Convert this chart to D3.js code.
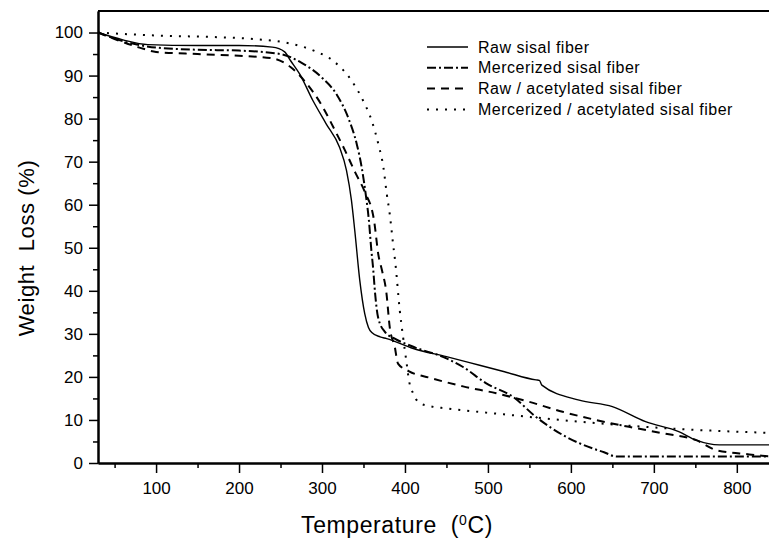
<!DOCTYPE html>
<html>
<head>
<meta charset="utf-8">
<script src="https://cdn.jsdelivr.net/npm/d3@7"></script>
<style>
	body { margin: 0; background: #fff; }
	text { font-family: 'Liberation Sans', Arial, sans-serif; fill: #000; }
</style>
</head>
<body>
<svg id="chart" width="769" height="541"></svg>
<script>

// temperature (C) and weight (%)
var raw_T = [30, 60, 90, 150, 200, 240, 255, 262, 273, 289, 305, 321, 329.5, 335.5, 339.5, 345.5, 351.5, 356, 360, 370, 378, 410, 450, 490, 520, 558, 562, 565, 610, 650, 690, 730, 751, 779, 840]
var raw_W = [100, 98.3, 97.2, 97, 97, 96.6, 95.5, 93.5, 90.4, 84.2, 78.8, 73.4, 68, 61, 54, 42.5, 34.7, 31.5, 30.3, 29.3, 28.9, 26.6, 24.7, 22.7, 21.2, 19.3, 19.2, 18.1, 14.6, 13.1, 9.6, 7.3, 5.3, 4.2, 4.2]

var merc_T = [30, 60, 100, 150, 200, 250, 275, 300, 318, 332, 342, 348, 353, 356.5, 359.5, 361.5, 364, 367.5, 375.6, 387.7, 410, 450, 470, 498, 530, 558, 594, 626, 640, 655, 840]
var merc_W = [100, 98, 96.5, 96, 95.8, 95, 93, 89.5, 85.5, 80, 74, 68.5, 62, 56.4, 49.4, 45.5, 39.4, 33.9, 30.5, 28.9, 27, 24.3, 22.3, 18.5, 15.4, 10.7, 6.1, 3.4, 2.5, 1.5, 1.5]

var rawac_T = [30, 50, 80, 100, 150, 200, 240, 262, 280, 300, 315, 328, 340, 351.5, 362.7, 368, 372, 377.7, 381.6, 387.7, 391.6, 405, 430, 470, 510, 550, 590, 630, 670, 711, 751, 775, 815, 840]
var rawac_W = [100, 98.5, 96.5, 95.5, 95, 94.6, 94, 92, 88.5, 83, 77.5, 72.5, 67.5, 63, 56.4, 48.3, 45, 39.4, 31.6, 27, 23.1, 21.3, 19.8, 17.8, 16.2, 14.2, 11.9, 10, 8.4, 6.9, 5.3, 3, 2, 1.5]

var mercac_T = [30, 100, 177, 217, 260, 290, 315, 335, 350, 360, 368, 374, 378, 381.6, 385.6, 388.5, 393.7, 397.7, 401.8, 405, 409.7, 417.8, 430, 450, 530, 610, 730, 840]
var mercac_W = [100, 99.3, 98.9, 98.5, 97.5, 95.8, 93.2, 89, 84, 79.5, 74, 68.7, 62.6, 57.9, 51, 46.3, 35.5, 29.3, 23.5, 19, 16.2, 13.9, 13.2, 12.7, 11.1, 9.6, 7.9, 7.0]

var names = ['Raw sisal fiber', 'Mercerized sisal fiber', 'Raw / acetylated sisal fiber', 'Mercerized / acetylated sisal fiber']
var dashes = [null, '9,3,2,3', '8,6', '2,7']
var widths = [1.4, 2, 2, 2]

var x_ticks = [100, 200, 300, 400, 500, 600, 700, 800]
var y_ticks = [0, 10, 20, 30, 40, 50, 60, 70, 80, 90, 100]

var series = [
	raw_T.map((t, i) => [t, raw_W[i]]),
	merc_T.map((t, i) => [t, merc_W[i]]),
	rawac_T.map((t, i) => [t, rawac_W[i]]),
	mercac_T.map((t, i) => [t, mercac_W[i]])
]

var pl = 98, pt = 11, pr = 770, pb = 463

var x = d3.scaleLinear().domain([30, 840]).range([pl, pr])
var y = d3.scaleLinear().domain([0, 105]).range([pb, pt])

var svg = d3.select('#chart')

// x axis, major + minor ticks
var xg = svg.append('g')
	.attr('transform', 'translate(0,' + pb + ')')
	.call(d3.axisBottom(x).tickValues(x_ticks).tickSize(10).tickPadding(9).tickSizeOuter(0))
xg.selectAll('text').attr('font-size', 17).style('font-family', "'Liberation Sans', Arial, sans-serif")

svg.append('g')
	.attr('transform', 'translate(0,' + pb + ')')
	.call(d3.axisBottom(x).tickValues(d3.range(50, 850, 100)).tickSize(5).tickFormat('').tickSizeOuter(0))

// y axis
var yg = svg.append('g')
	.attr('transform', 'translate(' + pl + ',0)')
	.call(d3.axisLeft(y).tickValues(y_ticks).tickSize(9).tickPadding(6).tickSizeOuter(0))
yg.selectAll('text').attr('font-size', 17).style('font-family', "'Liberation Sans', Arial, sans-serif")

svg.append('g')
	.attr('transform', 'translate(' + pl + ',0)')
	.call(d3.axisLeft(y).tickValues(d3.range(5, 105, 10)).tickSize(5).tickFormat('').tickSizeOuter(0))

svg.selectAll('.domain').attr('stroke-width', 2)
svg.selectAll('.tick line').attr('stroke-width', 1.5)

// top frame
svg.append('line')
	.attr('x1', pl).attr('x2', pr)
	.attr('y1', pt).attr('y2', pt)
	.attr('stroke', '#000')
	.attr('stroke-width', 2)

var line = d3.line()
	.x(d => x(d[0]))
	.y(d => y(d[1]))
	.curve(d3.curveMonotoneX)

svg.append('g')
	.selectAll('path')
	.data(series)
	.enter().append('path')
	.attr('d', line)
	.attr('fill', 'none')
	.attr('stroke', '#000')
	.attr('stroke-width', (d, i) => widths[i])
	.attr('stroke-dasharray', (d, i) => dashes[i])

// legend
var legend = svg.selectAll('.legend')
	.data(names)
	.enter().append('g')
	.attr('class', 'legend')
	.attr('transform', (d, i) => 'translate(427,' + (47 + i * 20.8) + ')')

legend.append('line')
	.attr('x1', 0).attr('x2', 41)
	.attr('stroke', '#000')
	.attr('stroke-width', (d, i) => widths[i])
	.attr('stroke-dasharray', (d, i) => dashes[i])

legend.append('text')
	.attr('x', 51)
	.attr('dy', '0.35em')
	.attr('font-size', 16)
	.style('letter-spacing', '0.5px')
	.text(d => d)

// axis titles
var xt = svg.append('text')
	.attr('x', 397)
	.attr('y', 533)
	.attr('text-anchor', 'middle')
	.attr('font-size', 23)
	.style('letter-spacing', '0.6px')
	.style('white-space', 'pre')
xt.append('tspan').text('Temperature  (')
xt.append('tspan').attr('dy', -8).attr('font-size', 14).text('0')
xt.append('tspan').attr('dy', 8).text('C)')

svg.append('text')
	.attr('transform', 'translate(34,248) rotate(-90)')
	.attr('text-anchor', 'middle')
	.attr('font-size', 22)
	.style('letter-spacing', '0.6px')
	.style('white-space', 'pre')
	.text('Weight  Loss (%)')

</script>
</body>
</html>
